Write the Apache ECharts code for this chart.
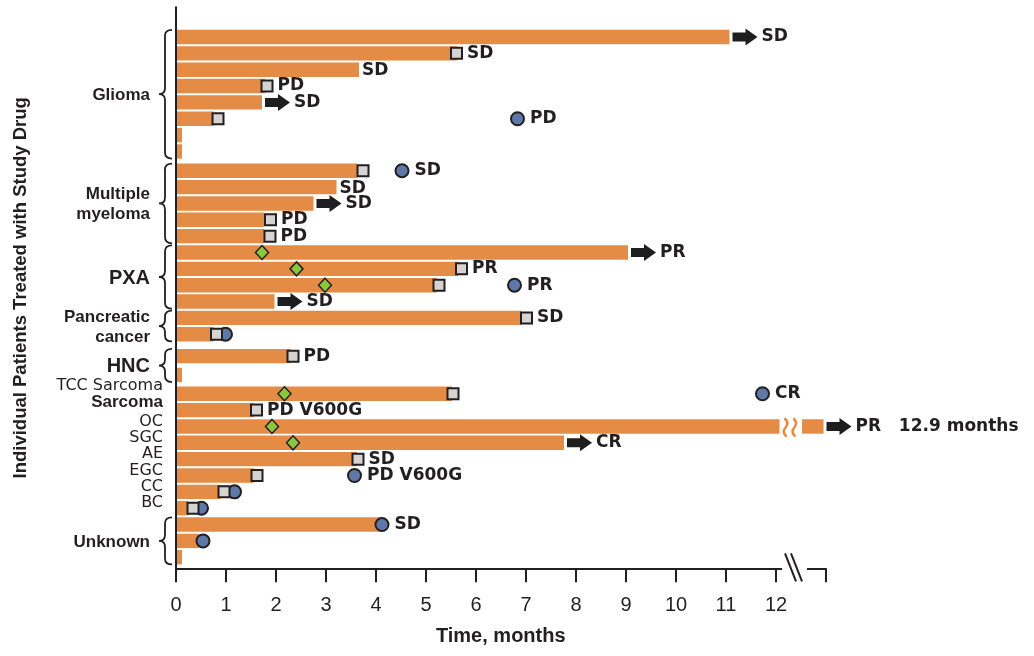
<!DOCTYPE html>
<html><head><meta charset="utf-8">
<script src="https://cdn.jsdelivr.net/npm/echarts@6/dist/echarts.min.js"></script>
<style>html,body{margin:0;padding:0;background:#fff}#c{width:1034px;height:656px}</style>
</head><body><div id="c"></div>
<script>
// ---------------- data ----------------
// months on study drug, one value per patient row (top to bottom)
const durationMonths = [11.07, 5.62, 3.66, 1.78, 1.72, 0.75, 0.12, 0.12,
  3.62, 3.21, 2.75, 1.76, 1.76,
  9.04, 5.65, 5.22, 1.97,
  6.9, 0.75,
  2.29, 0.12,
  5.52, 1.55, 12.95, 7.76, 3.62, 1.56, 0.89, 0.25,
  4.09, 0.46, 0.12];

const groupNames = ['Glioma', 'Multiple\nmyeloma', 'PXA', 'Pancreatic\ncancer', 'HNC', 'Unknown'];
const groupFirstRow = [1, 9, 14, 18, 20, 30];
const groupLastRow = [8, 13, 17, 19, 21, 32];

const singleNames = ['TCC Sarcoma', 'Sarcoma', 'OC', 'SGC', 'AE', 'EGC', 'CC', 'BC'];
const singleRows = [22, 23, 24, 25, 26, 27, 28, 29];

// markers: [months, row, response label]
const squareMarks = [[5.61, 2, 'SD'], [1.82, 4, 'PD'], [0.84, 6, ''], [3.74, 9, ''], [1.89, 12, 'PD'],
  [1.88, 13, 'PD'], [5.71, 15, 'PR'], [5.26, 16, ''], [7.01, 18, 'SD'], [0.81, 19, ''],
  [2.34, 20, 'PD'], [5.54, 22, ''], [1.61, 23, 'PD V600G'], [3.64, 26, 'SD'], [1.62, 27, ''],
  [0.96, 28, ''], [0.34, 29, '']];
const circleMarks = [[6.83, 6, 'PD'], [4.52, 9, 'SD'], [6.77, 16, 'PR'], [0.99, 19, ''], [11.73, 22, 'CR'],
  [3.57, 27, 'PD V600G'], [1.17, 28, ''], [0.51, 29, ''], [4.12, 30, 'SD'], [0.54, 31, '']];
const diamondMarks = [[1.72, 14], [2.41, 15], [2.98, 16], [2.17, 22], [1.92, 24], [2.34, 25]];
// ongoing treatment arrows: [row, response label]
const arrowRows = [1, 5, 11, 14, 17, 24, 25];
const arrowTexts = ['SD', 'SD', 'SD', 'PR', 'SD', 'PR   12.9 months', 'CR'];
// response labels written right after the bar end
const barLabelRows = [3, 10];
const barLabelTexts = ['SD', 'SD'];
// broken bar (axis break)
const brokenRows = [24];
const breakFrom = [12.07];
const breakTo = [12.52];
const axisBreak = [[12.12, 12.62]];
const xTickMax = 12;

// ---------------- layout / style ----------------
const ROW_GAP_AFTER = [[8, 0.18], [19, 0.34], [20, 0.15], [21, 0.15]];
function rowPos(r) { let p = r; ROW_GAP_AFTER.forEach(g => { if (r > g[0]) p += g[1]; }); return p; }
const INK = '#231F20', BAR = '#E48C45';
const FAM = '"Liberation Sans", Arial, sans-serif';
const FAM2 = '"DejaVu Sans", sans-serif';
const labelStyle = { show: true, position: 'right', distance: 4, color: INK, fontSize: 17, fontWeight: 'bold', fontFamily: FAM2,
  formatter: p => p.data[2] || '' };

const barData = durationMonths.map((m, i) => [rowPos(i + 1), m, i + 1]);

function renderBar(params, api) {
  const rp = api.value(0), end = api.value(1), rowNo = api.value(2);
  const h = api.size([0, 1])[1] * 0.88;
  const base = api.coord([0, rp]);
  const tip = api.coord([end, rp]);
  const rect = (xa, xb) => ({ type: 'rect', shape: { x: xa, y: base[1] - h / 2, width: xb - xa, height: h }, style: { fill: BAR } });
  const children = [];
  const bi = brokenRows.indexOf(rowNo);
  if (bi >= 0) {
    const xa = api.coord([breakFrom[bi], rp])[0], xb = api.coord([breakTo[bi], rp])[0];
    children.push(rect(base[0] + 1, xa), rect(xb, tip[0]));
    [0.27, 0.66].forEach(f => {
      const wx = xa + (xb - xa) * f, t = base[1] - h / 2 - 1, b = base[1] + h / 2 + 3, m = (t + b) / 2;
      children.push({ type: 'path', shape: { pathData: `M${wx - 1},${t} Q${wx + 4},${(t + m) / 2} ${wx},${m} Q${wx - 4},${(m + b) / 2} ${wx + 1},${b}` },
        style: { fill: 'none', stroke: BAR, lineWidth: 2.5 } });
    });
  } else {
    children.push(rect(base[0] + 1, tip[0]));
  }
  const li = barLabelRows.indexOf(rowNo);
  if (li >= 0) children.push({ type: 'text', style: { text: barLabelTexts[li], x: tip[0] + 3, y: base[1] + 1, align: 'left', verticalAlign: 'middle',
    fill: INK, fontSize: 17, fontWeight: 'bold', fontFamily: FAM2 } });
  return { type: 'group', children };
}

function renderGroup(params, api) {
  const first = api.value(0), last = api.value(1), idx = api.value(2);
  const x0 = api.coord([0, first])[0];
  const top = api.coord([0, first - 0.5])[1] + 1, bot = api.coord([0, last + 0.5])[1] - 1, mid = (top + bot) / 2;
  const xr = x0 - 4, xs = x0 - 11, xm = x0 - 17, r = 6;
  const d = `M${xr},${top} Q${xs},${top} ${xs},${top + r} L${xs},${mid - r} Q${xs},${mid} ${xm},${mid} Q${xs},${mid} ${xs},${mid + r} L${xs},${bot - r} Q${xs},${bot} ${xr},${bot}`;
  const name = groupNames[idx];
  const big = name.length <= 3;
  return { type: 'group', children: [
    { type: 'path', shape: { pathData: d }, style: { fill: 'none', stroke: INK, lineWidth: 1.8 } },
    { type: 'text', style: { text: name, x: x0 - 26, y: mid + 1, align: 'right', verticalAlign: 'middle', lineHeight: 20,
      fill: INK, fontSize: big ? 20 : 17, fontWeight: 'bold', fontFamily: FAM } }
  ] };
}

function renderSingle(params, api) {
  const rp = api.value(0), idx = api.value(1);
  const p = api.coord([0, rp]);
  const name = singleNames[idx];
  const isBold = name === 'Sarcoma';
  return { type: 'text', style: { text: name, x: p[0] - 13, y: p[1] - (name.indexOf('Sarcoma') >= 0 ? 8 : 5), align: 'right', verticalAlign: 'middle',
    fill: INK, fontSize: isBold ? 17 : 16, fontWeight: isBold ? 'bold' : 'normal', fontFamily: isBold ? FAM : FAM2 } };
}

function renderBreak(params, api) {
  const cs = params.coordSys;
  const ay = cs.y + cs.height;
  const xa = api.coord([api.value(0), 0])[0], xb = api.coord([api.value(1), 0])[0];
  return { type: 'group', children: [
    { type: 'rect', shape: { x: xa, y: ay - 3, width: xb - xa, height: 6 }, style: { fill: '#fff' } },
    { type: 'line', shape: { x1: xa + 3, y1: ay - 15, x2: xa + 14, y2: ay + 13 }, style: { stroke: INK, lineWidth: 2 } },
    { type: 'line', shape: { x1: xa + 9, y1: ay - 15, x2: xa + 20, y2: ay + 13 }, style: { stroke: INK, lineWidth: 2 } }
  ] };
}

const chart = echarts.init(document.getElementById('c'), null, { renderer: 'canvas' });
chart.setOption({
  animation: false,
  backgroundColor: '#fff',
  textStyle: { fontFamily: FAM },
  grid: { left: 176, right: 208.5, top: 7.3, bottom: 87.7, containLabel: false },
  xAxis: {
    type: 'value', min: 0, max: 12.99, interval: 1,
    axisLine: { onZero: false, lineStyle: { color: INK, width: 2 } },
    axisTick: { show: true, length: 14, lineStyle: { color: INK, width: 2 } },
    axisLabel: { fontSize: 20, color: INK, margin: 27, fontFamily: FAM, formatter: v => (v <= xTickMax ? String(v) : '') },
    splitLine: { show: false },
    name: 'Time, months', nameLocation: 'middle', nameGap: 58,
    nameTextStyle: { fontSize: 20, fontWeight: 'bold', color: INK, fontFamily: FAM }
  },
  yAxis: {
    type: 'value', inverse: true, min: -0.816, max: 33.496,
    axisLine: { show: true, onZero: false, lineStyle: { color: INK, width: 2 } },
    axisTick: { show: false }, axisLabel: { show: false }, splitLine: { show: false },
    name: 'Individual Patients Treated with Study Drug', nameLocation: 'middle', nameGap: 146, nameRotate: 90,
    nameTextStyle: { fontSize: 18.5, fontWeight: 'bold', color: INK, fontFamily: FAM }
  },
  series: [
    { type: 'custom', name: 'bars', clip: false, silent: true, renderItem: renderBar, encode: { x: 1, y: 0 }, data: barData, z: 2 },
    { type: 'custom', name: 'groups', clip: false, silent: true, renderItem: renderGroup,
      data: groupNames.map((g, i) => [rowPos(groupFirstRow[i]), rowPos(groupLastRow[i]), i]), encode: { y: [0, 1] }, z: 3 },
    { type: 'custom', name: 'singles', clip: false, silent: true, renderItem: renderSingle,
      data: singleRows.map((r, i) => [rowPos(r), i]), encode: { y: 0 }, z: 3 },
    { type: 'custom', name: 'axisBreak', clip: false, silent: true, renderItem: renderBreak,
      data: axisBreak, encode: { x: [0, 1] }, z: 4 },
    { type: 'scatter', name: 'arrows', clip: false, silent: true, z: 5,
      symbol: 'path://M0,4L13,4L13,0L25,8.5L13,17L13,13L0,13Z', symbolSize: [25, 17], symbolOffset: [15.5, 0], symbolKeepAspect: false,
      itemStyle: { color: '#1E1E1E', opacity: 1 }, label: labelStyle,
      data: arrowRows.map((r, i) => [durationMonths[r - 1], rowPos(r), arrowTexts[i]]) },
    { type: 'scatter', name: 'diamonds', clip: false, silent: true, z: 5, symbol: 'diamond', symbolSize: [13, 14],
      itemStyle: { color: '#8CC63F', borderColor: INK, borderWidth: 1.5, opacity: 1 },
      data: diamondMarks.map(d => [d[0], rowPos(d[1])]) },
    { type: 'scatter', name: 'circles', clip: false, silent: true, z: 5, symbol: 'circle', symbolSize: 13,
      itemStyle: { color: '#5E78A8', borderColor: INK, borderWidth: 2, opacity: 1 }, label: Object.assign({}, labelStyle, { distance: 5 }),
      data: circleMarks.map(d => [d[0], rowPos(d[1]), d[2]]) },
    { type: 'scatter', name: 'squares', clip: false, silent: true, z: 6, symbol: 'rect', symbolSize: 11,
      itemStyle: { color: '#D6D3D0', borderColor: INK, borderWidth: 2, opacity: 1 }, label: labelStyle,
      data: squareMarks.map(d => [d[0], rowPos(d[1]), d[2]]) }
  ]
});
</script></body></html>
